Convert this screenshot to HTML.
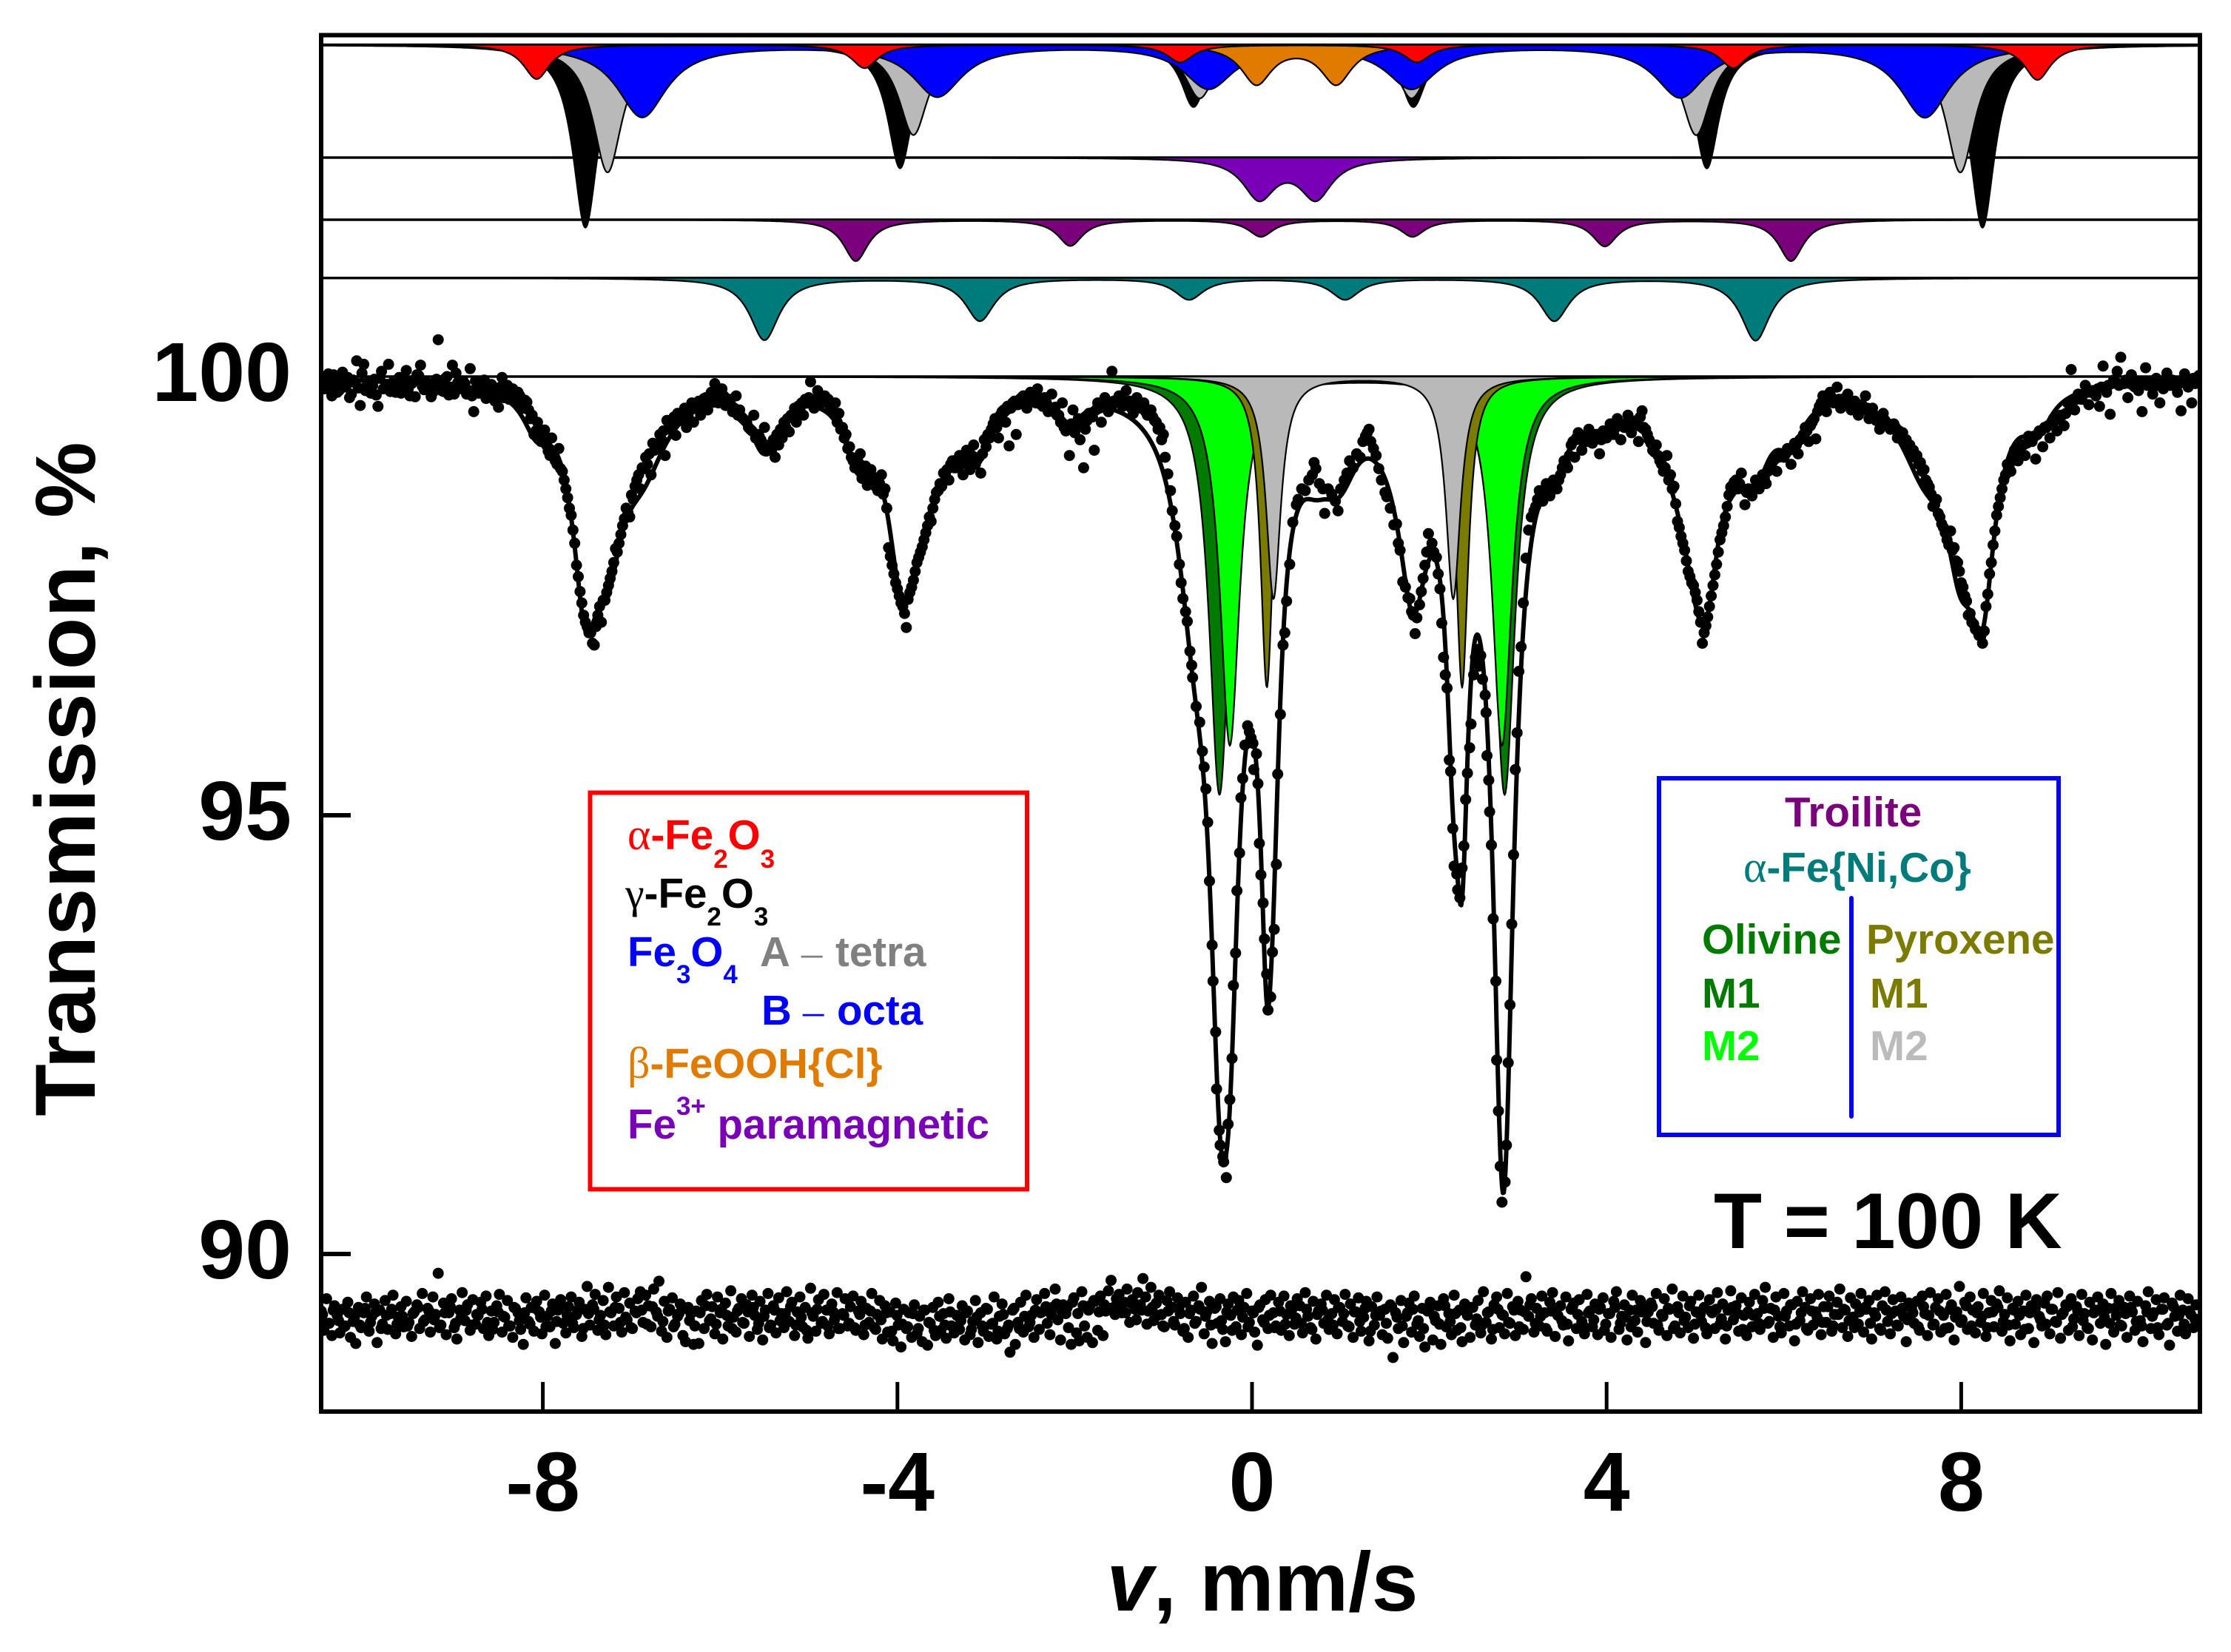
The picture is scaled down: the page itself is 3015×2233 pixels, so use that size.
<!DOCTYPE html>
<html lang="en">
<head>
<meta charset="utf-8">
<title>Mössbauer spectrum at T = 100 K</title>
<style>
html,body{margin:0;padding:0;background:#fff;}
svg{display:block;}
text{font-family:"Liberation Sans",sans-serif;font-weight:700;}
.gr{font-family:"Liberation Serif",serif;font-weight:400;}
</style>
</head>
<body>
<svg id="chart" xmlns="http://www.w3.org/2000/svg" width="3015" height="2233" viewBox="0 0 3015 2233">
<defs><clipPath id="plot-clip"><rect x="434" y="47" width="2539" height="1861"/></clipPath></defs>
<rect x="0" y="0" width="3015" height="2233" fill="#fff"/>
<g id="plot" clip-path="url(#plot-clip)"></g>
<rect x="434" y="47.5" width="2539" height="1860.5" fill="none" stroke="#000" stroke-width="6"/>
<g id="axes"></g>
<text transform="translate(128,1053) rotate(-90)" text-anchor="middle" font-size="115.5">Transmission, %</text>
<text x="1706" y="2177" text-anchor="middle" font-size="113"><tspan font-style="italic">v</tspan>, mm/s</text>
<text x="2316" y="1687" font-size="106.5">T = 100 K</text>

<g font-size="56.5">
<rect x="797.5" y="1071.5" width="590.5" height="536" fill="none" stroke="#ff0000" stroke-width="6"/>
<text x="848" y="1148" fill="#ff0000"><tspan class="gr" font-size="60">α</tspan>-Fe<tspan font-size="35" dy="25">2</tspan><tspan dy="-25">O</tspan><tspan font-size="35" dy="25">3</tspan></text>
<text x="845" y="1227" fill="#000"><tspan class="gr" font-size="58">γ</tspan>-Fe<tspan font-size="35" dy="24">2</tspan><tspan dy="-24">O</tspan><tspan font-size="35" dy="24">3</tspan></text>
<text x="848" y="1306" fill="#0000ff">Fe<tspan font-size="35" dy="23">3</tspan><tspan dy="-23">O</tspan><tspan font-size="35" dy="23">4</tspan></text>
<text y="1306" fill="#808080"><tspan x="1027">A</tspan><tspan class="gr" x="1083">–</tspan><tspan x="1129">tetra</tspan></text>
<text y="1385" fill="#0000ff"><tspan x="1029">B</tspan><tspan class="gr" x="1085">–</tspan><tspan x="1131">octa</tspan></text>
<text x="848" y="1457" fill="#e07b00"><tspan class="gr" font-size="60">β</tspan>-FeOOH{Cl}</text>
<text x="848" y="1539" fill="#7a00b8">Fe<tspan font-size="35" dy="-32">3+</tspan><tspan dy="32"> paramagnetic</tspan></text>
</g>

<g font-size="56.5">
<rect x="2242" y="1052" width="540" height="482" fill="none" stroke="#0000ff" stroke-width="6"/>
<line x1="2502" y1="1214" x2="2502" y2="1509" stroke="#0000ff" stroke-width="6" stroke-linecap="round"/>
<text x="2412" y="1117" fill="#7b007b">Troilite</text>
<text x="2356" y="1192" fill="#007b7b"><tspan class="gr" font-size="60">α</tspan>-Fe{Ni,Co}</text>
<text x="2300" y="1289" fill="#007b00">Olivine</text>
<text x="2522" y="1289" fill="#7b7b00">Pyroxene</text>
<text x="2300" y="1362" fill="#007b00">M1</text>
<text x="2527" y="1362" fill="#7b7b00">M1</text>
<text x="2300" y="1433" fill="#00ff00">M2</text>
<text x="2527" y="1433" fill="#bbbbbb">M2</text>
</g>

<script>
// ---- tick labels ----
const xTicks = [-8, -4, 0, 4, 8];
const yTicks = [90, 95, 100];

// ---- fitted sub-spectra: line velocity (mm/s), line depth (%), half width (mm/s) ----
const gammaVelocity = [-7.52, -3.97, -0.66, 1.82, 5.13, 8.24];
const gammaDepth = [2.08, 1.40, 0.70, 0.70, 1.40, 2.08];
const gammaWidth = 0.17;
const tetraVelocity = [-7.27, -3.82, -0.59, 1.80, 5.01, 7.99];
const tetraDepth = [1.45, 1.02, 0.60, 0.60, 1.02, 1.45];
const tetraWidth = 0.20;
const octaVelocity = [-6.88, -3.55, -0.49, 1.80, 4.83, 7.59];
const octaDepth = [0.82, 0.58, 0.485, 0.485, 0.585, 0.82];
const octaWidth = 0.34;
const feoohVelocity = [0.05, 0.95];
const feoohDepth = [0.44, 0.44];
const feoohWidth = 0.21;
const hematiteVelocity = [-8.07, -4.37, -0.81, 1.86, 5.43, 8.86];
const hematiteDepth = [0.39, 0.265, 0.20, 0.20, 0.265, 0.40];
const hematiteWidth = 0.18;
const paraVelocity = [0.08, 0.72];
const paraDepth = [0.452, 0.452];
const paraWidth = 0.22;
const troiliteVelocity = [-4.47, -2.05, 0.10, 1.81, 3.98, 6.08];
const troiliteDepth = [0.47, 0.295, 0.19, 0.19, 0.30, 0.47];
const troiliteWidth = 0.17;
const ironVelocity = [-5.50, -3.07, -0.71, 1.05, 3.41, 5.68];
const ironDepth = [0.705, 0.485, 0.24, 0.24, 0.485, 0.71];
const ironWidth = 0.20;
const olivineM1Velocity = [-0.367, 2.85];
const olivineM1Depth = [4.76, 4.76];
const olivineM1Width = 0.14;
const olivineM2Velocity = [-0.25, 2.82];
const olivineM2Depth = [4.2, 4.2];
const olivineM2Width = 0.135;
const pyroxeneM1Velocity = [0.167, 2.37];
const pyroxeneM1Depth = [3.54, 3.54];
const pyroxeneM1Width = 0.085;
const pyroxeneM2Velocity = [0.242, 2.27];
const pyroxeneM2Depth = [2.53, 2.53];
const pyroxeneM2Width = 0.10;

// ---- experimental points: absorption in 0.01 % units ----
// left wing channels run from -10.5 mm/s in 0.04 mm/s steps
const leftWingAbsorption = [
2,14,-3,22,6,16,-5,11,24,4,
-18,33,-14,9,19,3,34,-6,12,-14,
8,18,1,13,-7,22,5,-2,-13,15,
10,23,6,-42,16,2,21,-13,-4,14,
5,20,-9,40,12,18,4,24,9,28,
35,1,17,26,14,30,22,36,29,48,
66,52,74,61,85,70,96,82,108,128,
150,175,215,245,272,285,292,306,272,280,
255,238,222,196,190,170,150,160,140,118,
128,105,100,112,84,78,72,90,60,55,
67,48,40,58,36,52,30,44,25,38,
18,8,30,14,33,26,40,22,38,48,
52,60,44,66,72,58,80,84,92,78,
70,58,63,46,52,38,44,30,6,36,
16,30,22,26,38,30,42,58,66,80,
96,104,88,110,124,106,118,130,112,128,
195,215,235,250,262,286,246,232,212,200,
186,170,165,140,130,125,112,118,96,104,
90,112,84,106,78,95,110,72,66,60,
48,70,40,52,79,30,66,26,22,36,
18,28,14,32,24,40,20,35,44,30,
62,90,38,58,72,104,50,44,84,30,
52,24,40,-6,30,22,34,16,28,42,
24,36,30,44,38,50,60,72];

// left wing interleaved channels run from -10.48 mm/s in 0.04 mm/s steps
const leftWingInterleaved = [
10,4,15,-2,18,8,12,1,20,7,
13,-4,16,6,10,21,2,14,9,17,
5,12,19,3,15,8,23,-1,11,6,
14,18,3,9,17,0,12,20,7,13,
8,16,22,5,19,11,25,14,20,17,
12,24,10,21,28,18,32,27,38,44,
62,70,68,78,90,88,100,105,118,138,
158,190,228,258,280,292,304,285,262,255,
246,230,212,200,180,162,155,135,125,112,
104,92,88,76,80,66,62,50,58,46,
42,50,36,46,30,32,28,34,24,30,
24,20,28,22,30,32,36,44,46,50,
58,62,70,68,76,85,78,72,66,60,
52,48,44,36,34,30,26,24,28,26,
28,24,30,34,42,52,60,70,82,92,
104,98,116,102,120,114,126,122,134,150,
205,225,242,258,270,254,240,222,206,194,
178,160,150,132,122,110,106,100,104,94,
100,92,98,90,100,92,88,80,70,54,
58,44,38,34,36,28,32,24,28,30,
26,30,24,34,30,36,40,44,52,58,
60,54,64,48,52,60,42,46,38,36,
34,30,32,28,26,30,28,30,36,32,
30,34,40,38,46,52,58,66];

// central channels read individually
const centerVelocity = [
-.98,-.95,-.92,-.90,-.87,-.85,-.82,-.80,-.78,-.75,-.73,-.70,-.68,-.67,-.63,-.59,-.56,-.54,-.52,-.50,
-.48,-.45,-.44,-.41,-.40,-.37,-.36,-.33,-.32,-.29,-.27,-.25,-.225,-.21,-.185,-.17,-.14,-.125,-.105,-.08,
-.05,-.03,-.01,.01,.02,.05,.067,.083,.10,.125,.14,.165,.18,.21,.23,.25,.275,.29,.32,.35,
.37,.39,.425,.46,.50,.52,.56,.60,.64,.68,.70,.72,.76,.80,.82,.86,.90,.94,.97,1.0,
1.04,1.07,1.10,1.14,1.18,1.22,1.25,1.28,1.30,1.32,1.34,1.37,1.40,1.43,1.46,1.50,1.52,1.56,1.60,1.63,
1.65,1.67,1.70,1.73,1.76,1.78,1.80,1.82,1.84,1.86,1.89,1.91,1.93,1.95,1.97,1.99,2.01,2.03,2.05,2.08,
2.10,2.12,2.14,2.16,2.18,2.20,2.225,2.24,2.265,2.28,2.31,2.32,2.345,2.37,2.39,2.41,2.43,2.455,2.47,2.50,
2.52,2.54,2.56,2.58,2.60,2.63,2.64,2.65,2.67,2.68,2.70,2.72,2.75,2.76,2.78,2.80,2.82,2.855,2.87,2.89,
2.91,2.93,2.95,2.97,2.99,3.01,3.035,3.06,3.09,3.12,3.15,3.18];
const centerAbsorption = [
92,111,130,153,170,182,214,235,253,268,279,313,329,343,376,394,427,445,470,508,
575,648,689,747,812,859,876,889,895,913,852,824,777,694,657,586,543,480,458,420,
398,405,412,418,448,430,464,532,568,600,641,681,722,707,656,630,556,453,385,306,
292,256,214,166,146,140,128,130,118,112,98,105,122,128,156,128,134,142,153,128,
118,110,96,104,88,92,74,68,64,60,74,82,90,105,118,132,137,150,169,168,
190,198,234,240,252,253,268,272,293,275,260,245,230,215,200,179,198,190,200,206,
225,242,281,320,340,355,437,450,515,558,567,585,594,560,535,482,452,423,396,340,
320,311,330,318,345,363,383,432,460,496,534,618,689,779,837,900,941,918,876,782,
716,624,545,448,406,336,308,258,207,175,160,153];

// right wing channels run from 3.20 mm/s in 0.04 mm/s steps
const rightWingAbsorption = [
148,130,142,122,136,118,128,112,96,104,
78,92,64,84,70,60,76,66,88,62,
70,54,66,48,72,58,44,64,52,74,
39,60,72,84,78,96,108,90,112,125,
165,182,198,222,235,246,268,304,284,262,
238,214,186,170,148,126,120,128,110,146,
128,136,118,128,112,122,104,96,108,88,
92,82,100,76,88,70,58,74,52,71,
34,22,40,18,30,12,36,25,20,38,
28,44,32,22,48,36,50,60,42,55,
60,54,70,66,74,80,86,92,100,108,
118,126,148,140,160,172,186,176,195,212,
235,250,272,280,288,295,304,262,225,192,
158,138,118,100,108,84,96,78,90,68,
74,94,62,80,58,70,48,62,44,56,
30,-8,38,20,26,10,32,16,22,34,
-12,18,43,4,-6,-22,8,24,-2,12,
16,40,-10,6,20,2,30,14,-4,10,
5,18,39,-3,12,30,8,-1];

// right wing interleaved channels run from 3.22 mm/s in 0.04 mm/s steps
const rightWingInterleaved = [
140,132,136,126,130,120,118,104,100,90,
74,70,72,68,74,68,70,66,72,70,
62,60,58,56,54,58,52,54,50,46,
58,66,76,86,90,100,104,118,128,145,
172,190,210,228,238,255,280,292,274,250,
226,200,178,160,135,124,118,122,128,132,
130,128,122,118,116,108,100,94,92,90,
88,84,82,78,72,66,62,56,48,40,
30,28,26,24,28,26,30,28,30,32,
34,36,38,36,42,44,48,52,50,54,
56,58,62,64,72,78,84,90,98,106,
122,134,146,156,168,178,192,198,210,222,
240,256,270,282,290,296,290,248,212,176,
148,128,112,102,92,88,84,78,76,72,
68,66,62,58,56,52,50,48,44,42,
32,28,26,24,20,18,18,16,14,12,
12,10,8,6,10,8,4,8,10,6,
8,6,10,8,4,10,6,8,6,4,
6,8,4,6,8,2,4];

// ---- residual (data minus fit) in 0.01 % units, channels from -10.5 mm/s in 0.03 mm/s steps ----
const residualValues = [
8,-14,22,-6,-20,14,3,-17,10,-9,18,-22,-4,-29,12,-11,6,24,-15,2,
16,-28,9,-7,20,-13,5,26,-18,1,13,-10,19,-5,-21,7,15,-12,28,-2,
11,-16,24,4,51,-8,17,-19,6,22,-11,-24,9,29,-3,15,-14,21,-7,3,
18,-12,25,-20,8,-5,14,27,-16,1,20,-9,-22,11,6,-13,-30,23,-4,12,
-15,19,7,-18,26,2,-10,16,-29,9,21,-6,-17,13,24,-11,4,18,-21,10,
36,-8,15,27,-14,3,20,-19,35,6,-9,24,11,-16,29,-2,17,-12,8,22,
30,-5,26,14,-10,33,7,42,-15,19,-22,10,23,-7,2,16,-20,-27,12,5,
-30,8,-29,20,-12,27,-3,13,-18,24,6,-24,17,-9,31,1,-16,11,22,-6,
15,-21,26,3,-13,19,-25,9,28,-8,14,-17,23,5,-11,30,-4,18,-20,7,
24,-10,12,-23,34,2,-15,21,-6,27,9,-18,16,-2,29,-12,5,22,-9,13,
25,-14,8,19,-19,11,-5,28,-11,4,20,-24,14,-16,7,-26,17,-8,-33,10,
-12,6,-22,15,-18,2,-27,9,-31,-6,12,-20,18,-14,5,-23,22,-9,-17,3,
-13,14,-25,8,-19,-4,20,-28,6,-15,11,-21,-7,24,-24,2,16,-18,-12,-39,
9,-30,-5,18,-16,26,-10,3,-22,21,-13,7,28,-6,-19,12,33,-2,-25,15,
5,-11,-30,23,-17,-26,30,-9,-22,14,-28,19,-14,25,-20,8,31,43,12,22,
27,6,18,33,-5,21,10,29,15,45,24,8,35,-3,17,26,4,-10,20,30,
12,-8,23,5,-15,18,-22,9,25,-4,14,35,-18,7,19,-29,11,-6,22,-13,
-27,16,3,24,-10,20,-19,12,28,-5,8,-16,-31,15,-2,21,-12,26,6,-9,
18,-14,25,4,-20,10,-7,22,14,-17,29,2,-11,19,-24,8,16,-6,26,-13,
5,21,-18,12,-4,27,-9,16,-22,7,23,-15,1,19,-26,13,-8,24,3,-19,
10,-23,15,-45,6,-12,20,-28,2,17,-16,25,-7,-21,11,-33,8,18,-25,-3,
14,-30,22,-10,5,-19,26,-14,9,-27,16,3,-22,12,-8,20,-17,30,-5,7,
-24,15,24,-11,4,-18,28,-6,13,-20,19,9,-13,47,2,22,-16,11,-9,25,
6,-15,18,29,-21,3,14,-8,24,-26,10,17,-12,21,-4,-18,27,8,-10,16,
-19,12,23,-7,5,-22,19,30,-13,2,15,-25,9,26,-3,-16,20,11,-28,7,
17,-6,28,-14,4,22,-20,10,33,-9,13,-17,25,1,-11,19,-23,7,26,-4,
12,-18,21,6,-12,29,-7,16,-24,9,31,-2,14,-15,23,3,-20,18,-10,27,
5,-13,20,35,-6,11,-22,24,2,-17,28,8,-9,15,-26,19,-3,30,12,-14,
22,-8,7,27,-19,13,-5,25,-15,4,18,33,-11,9,-21,23,1,16,-7,28,
-16,10,20,-24,6,26,-12,14,30,-4,-18,21,8,-9,24,2,-27,17,11,-6,
19,-14,25,5,-20,29,-8,12,22,-16,3,27,-11,15,-25,7,36,-2,18,-13,
24,9,-17,13,-5,28,-21,6,20,-10,16,31,-15,4,23,-26,11,-7,19,-19,
8,26,-12,14,-28,21,2,-9,17,25,-18,10,-4,29,-23,6,15,-14,22,-1,
13,-20,27,5,-11,18,-25,9,24,-6,16,-30,11,28,-16,3,20,-9,12,-22,
25,7,-14,19,-3,-27,14,30,-12,6,21,-19,10,23,-8,-31,17,2,-15,26,
9,-18,22,4,-11,15,-7];

// interleaved residual channels from -10.485 mm/s in 0.06 mm/s steps
const residualInterleaved = [
4,-6,9,-3,-10,6,1,-8,11,-5,7,-12,3,10,-7,2,-9,5,12,-4,
8,-2,-11,6,13,-6,0,9,-8,4,10,-5,-13,7,2,-9,12,-3,6,-7,
11,1,-10,8,-4,14,3,-6,9,-12,5,10,-2,-8,7,12,-5,1,-11,6,
9,-7,13,2,-4,8,-10,5,11,-3,-9,6,14,-1,-7,10,3,-12,8,-5,
7,12,-6,2,-11,9,-3,5,13,-8,1,-14,6,10,-4,-9,7,-12,3,-6,
-11,4,-8,8,-13,-2,6,-15,3,-7,-10,5,-12,9,-5,-14,2,-8,7,-11,
-3,6,-13,1,-9,10,-6,-15,4,-8,11,-12,2,-5,9,6,13,4,16,8,
12,18,5,14,9,20,7,15,11,4,13,6,17,-2,9,-7,12,3,-9,8,
-4,11,-12,5,-6,10,2,-8,13,-3,7,-14,9,1,-10,6,12,-5,3,-11,
8,-7,14,0,-6,10,-13,4,9,-2,-8,12,5,-10,7,-4,11,-15,3,8,
-6,13,1,-9,6,10,-3,-12,9,2,-7,14,-4,5,-11,8,12,-1,-8,6,
-13,10,3,-5,9,-10,7,15,-6,2,-12,8,11,-3,-7,13,4,-9,6,-2,
10,-14,5,12,-6,1,-10,9,7,-4,13,-8,2,11,-12,6,-3,14,-7,4,
-11,8,10,-1,-9,12,5,-13,7,3,-6,11,-4,9,-10,2,15,-7,6,-12,
8,1,-5,13,-9,4,10,-3,-11,7,12,-6,2,-14,9,5,-8,11,-2,6,
-10,13,3,-7,8,-12,10,1,-5,14,-9,6,2,-11,7,12,-4,-8,9,3,
-13,6,11,-2,-7,10,-5,4,13,-10,8,-3,-12,6,9,1,-6,11,-8,5,
12,-4,-9,7,2,-11,10,-6,13,3,-7,8,-1];

// ---- axis functions ----
const velocityMin = -10.5, velocityMax = 10.69;
function xScale(v) { return 1692 + 119.8 * v; }
function yScale(t) { return 509 + 118.6 * (100 - t); }

const SVG_NS = 'http://www.w3.org/2000/svg';
const plot = document.getElementById('plot');
const axes = document.getElementById('axes');

function lorentz(v, velocities, depths, width) {
  let sum = 0;
  for (let i = 0; i < velocities.length; i++) {
    const d = (v - velocities[i]) / width;
    sum += depths[i] / (1 + d * d);
  }
  return sum;
}

// ---- layers: drawn in the listed order ----
const layers = [
  {name:'alpha-fe-lane', base:1.124, fill:'#007b7b', vel:ironVelocity, dep:ironDepth, w:ironWidth},
  {name:'troilite-lane', base:1.788, fill:'#7b007b', vel:troiliteVelocity, dep:troiliteDepth, w:troiliteWidth},
  {name:'fe3-paramagnetic-lane', base:2.496, fill:'#7a00b8', vel:paraVelocity, dep:paraDepth, w:paraWidth},
  {name:'gamma-fe2o3-subspectrum', base:3.782, fill:'#000000', vel:gammaVelocity, dep:gammaDepth, w:gammaWidth},
  {name:'fe3o4-a-subspectrum', base:3.782, fill:'#b9b9b9', vel:tetraVelocity, dep:tetraDepth, w:tetraWidth},
  {name:'fe3o4-b-subspectrum', base:3.782, fill:'#0000ff', vel:octaVelocity, dep:octaDepth, w:octaWidth},
  {name:'beta-feooh-subspectrum', base:3.782, fill:'#e07b00', vel:feoohVelocity, dep:feoohDepth, w:feoohWidth},
  {name:'alpha-fe2o3-subspectrum', base:3.782, fill:'#ff0000', vel:hematiteVelocity, dep:hematiteDepth, w:hematiteWidth},
  {name:'olivine-m1-doublet', base:0, fill:'#007b00', vel:olivineM1Velocity, dep:olivineM1Depth, w:olivineM1Width},
  {name:'olivine-m2-doublet', base:0, fill:'#00ff00', vel:olivineM2Velocity, dep:olivineM2Depth, w:olivineM2Width},
  {name:'pyroxene-m1-doublet', base:0, fill:'#7b7b00', vel:pyroxeneM1Velocity, dep:pyroxeneM1Depth, w:pyroxeneM1Width},
  {name:'pyroxene-m2-doublet', base:0, fill:'#b9b9b9', vel:pyroxeneM2Velocity, dep:pyroxeneM2Depth, w:pyroxeneM2Width}
];

// baselines
[0, 1.124, 1.788, 2.496, 3.782].forEach(function (offset) {
  const y = yScale(100 + offset);
  const line = document.createElementNS(SVG_NS, 'line');
  
  
  line.setAttribute('x1', xScale(velocityMin));
  line.setAttribute('x2', xScale(velocityMax));
  line.setAttribute('y1', y);
  line.setAttribute('y2', y);
  line.setAttribute('stroke', '#111');
  line.setAttribute('stroke-width', '3.5');
  plot.appendChild(line);
});

// filled sub-spectra
const step = 0.01;
const steps = Math.round((velocityMax - velocityMin) / step);
layers.forEach(function (layer) {
  const y0 = yScale(100 + layer.base);
  let d = 'M' + xScale(velocityMin).toFixed(1) + ' ' + y0.toFixed(1);
  for (let i = 0; i <= steps; i++) {
    const v = velocityMin + i * step;
    const t = 100 + layer.base - lorentz(v, layer.vel, layer.dep, layer.w);
    d += 'L' + xScale(v).toFixed(1) + ' ' + yScale(t).toFixed(1);
  }
  d += 'L' + xScale(velocityMax).toFixed(1) + ' ' + y0.toFixed(1) + 'Z';
  const path = document.createElementNS(SVG_NS, 'path');
  
  
  path.setAttribute('d', d);
  path.setAttribute('fill', layer.fill);
  path.setAttribute('stroke', '#000');
  path.setAttribute('stroke-width', '2.2');
  path.setAttribute('stroke-linejoin', 'round');
  plot.appendChild(path);
});

// total fit envelope: sum of every component
let fitPath = '';
for (let i = 0; i <= steps; i++) {
  const v = velocityMin + i * step;
  let absorption = 0;
  layers.forEach(function (layer) { absorption += lorentz(v, layer.vel, layer.dep, layer.w); });
  fitPath += (i ? 'L' : 'M') + xScale(v).toFixed(1) + ' ' + yScale(100 - absorption).toFixed(1);
}
const fitLine = document.createElementNS(SVG_NS, 'path');


fitLine.setAttribute('d', fitPath);
fitLine.setAttribute('fill', 'none');
fitLine.setAttribute('stroke', '#000');
fitLine.setAttribute('stroke-width', '6');
fitLine.setAttribute('stroke-linejoin', 'round');
plot.appendChild(fitLine);

// experimental points
function addSpectrumPoint(v, a) {
  const c = document.createElementNS(SVG_NS, 'circle');
  
  
  c.setAttribute('cx', xScale(v).toFixed(1));
  c.setAttribute('cy', yScale(100 - a / 100).toFixed(1));
  c.setAttribute('r', '7.5');
  plot.appendChild(c);
}
leftWingAbsorption.forEach(function (a, i) { addSpectrumPoint(-10.5 + 0.04 * i, a); });
leftWingInterleaved.forEach(function (a, i) { addSpectrumPoint(-10.48 + 0.04 * i, a); });
centerAbsorption.forEach(function (a, i) { addSpectrumPoint(centerVelocity[i], a); });
rightWingAbsorption.forEach(function (a, i) { addSpectrumPoint(3.2 + 0.04 * i, a); });
rightWingInterleaved.forEach(function (a, i) { addSpectrumPoint(3.22 + 0.04 * i, a); });

// residual points
const residualLevel = 89.27;
function addResidualPoint(v, r) {
  const c = document.createElementNS(SVG_NS, 'circle');
  
  
  c.setAttribute('cx', xScale(v).toFixed(1));
  c.setAttribute('cy', yScale(residualLevel + r / 100).toFixed(1));
  c.setAttribute('r', '7.5');
  plot.appendChild(c);
}
residualValues.forEach(function (r, i) { addResidualPoint(-10.5 + 0.03 * i, r); });
residualInterleaved.forEach(function (r, i) { addResidualPoint(-10.485 + 0.06 * i, r); });

// ticks and tick labels
xTicks.forEach(function (tick) {
  const x = xScale(tick);
  const mark = document.createElementNS(SVG_NS, 'line');
  
  
  mark.setAttribute('x1', x);
  mark.setAttribute('x2', x);
  mark.setAttribute('y1', 1868);
  mark.setAttribute('y2', 1908);
  mark.setAttribute('stroke', '#000');
  mark.setAttribute('stroke-width', '5');
  axes.appendChild(mark);
  const label = document.createElementNS(SVG_NS, 'text');
  
  
  label.setAttribute('x', x);
  label.setAttribute('y', 2042);
  label.setAttribute('text-anchor', 'middle');
  label.setAttribute('font-size', '113');
  label.textContent = String(tick);
  axes.appendChild(label);
});
yTicks.forEach(function (tick) {
  const y = yScale(tick);
  const mark = document.createElementNS(SVG_NS, 'line');
  
  
  mark.setAttribute('x1', 434);
  mark.setAttribute('x2', 474);
  mark.setAttribute('y1', y);
  mark.setAttribute('y2', y);
  mark.setAttribute('stroke', '#000');
  mark.setAttribute('stroke-width', '6');
  axes.appendChild(mark);
  const label = document.createElementNS(SVG_NS, 'text');
  
  
  label.setAttribute('x', 394);
  label.setAttribute('y', y + 33);
  label.setAttribute('text-anchor', 'end');
  label.setAttribute('font-size', '113');
  label.textContent = String(tick);
  axes.appendChild(label);
});
</script>
</svg>
</body>
</html>
